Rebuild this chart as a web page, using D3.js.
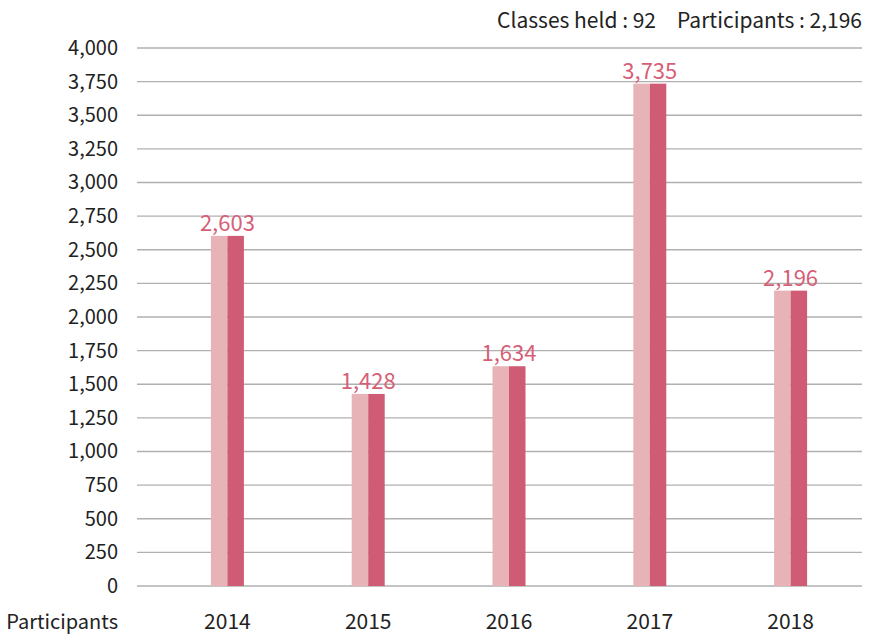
<!DOCTYPE html>
<html>
<head>
<meta charset="utf-8">
<script src="https://cdn.jsdelivr.net/npm/d3@7"></script>
<style>
  html, body { margin: 0; padding: 0; background: #fff; }
  svg { display: block; font-family: "Noto Sans CJK JP", "Noto Sans", sans-serif; }
</style>
</head>
<body>
<svg id="chart" width="879" height="637"></svg>
<script>
const years = ["2014", "2015", "2016", "2017", "2018"];
const participants = [2603, 1428, 1634, 3735, 2196];
const yTicks = [0, 250, 500, 750, 1000, 1250, 1500, 1750, 2000, 2250, 2500, 2750, 3000, 3250, 3500, 3750, 4000];
const summaryText = "Classes held : 92\u2003Participants : 2,196";
const rowLabel = "Participants";

const svg = d3.select("#chart");
const plotLeft = 137, plotRight = 862, plotTop = 48, plotBottom = 586;
const font = "'Noto Sans CJK JP', 'Noto Sans', sans-serif";

const y = d3.scaleLinear().domain([0, 4000]).range([plotBottom, plotTop]);
const x = d3.scaleBand().domain(years).range([157, 861]);
const fmt = d3.format(",");
const barHalf = 16.5;

// horizontal grid lines
svg.append("g")
  .selectAll("line")
  .data(yTicks)
  .join("line")
  .attr("x1", plotLeft).attr("x2", plotRight)
  .attr("y1", d => y(d)).attr("y2", d => y(d))
  .attr("stroke", "#b0b0b0").attr("stroke-width", 1.3);

// y axis labels
const yAxis = d3.axisLeft(y).tickValues(yTicks).tickFormat(fmt).tickSize(0).tickPadding(0);
const gy = svg.append("g").attr("transform", "translate(118,0)").call(yAxis);
gy.select(".domain").remove();
gy.selectAll("text").attr("font-size", 20).attr("fill", "#222").attr("font-family", font);

// bars: light left half, dark right half
const bars = svg.append("g").selectAll("g")
  .data(years.map((yr, i) => ({ yr, v: participants[i] })))
  .join("g");
bars.append("rect")
  .attr("x", d => x(d.yr) + x.bandwidth() / 2 - barHalf)
  .attr("y", d => y(d.v))
  .attr("width", barHalf)
  .attr("height", d => y(0) - y(d.v))
  .attr("fill", "#e8b3b7");
bars.append("rect")
  .attr("x", d => x(d.yr) + x.bandwidth() / 2)
  .attr("y", d => y(d.v))
  .attr("width", barHalf)
  .attr("height", d => y(0) - y(d.v))
  .attr("fill", "#cf5c74");

// value labels
bars.append("text")
  .attr("x", d => x(d.yr) + x.bandwidth() / 2)
  .attr("y", d => y(d.v) - 5)
  .attr("text-anchor", "middle")
  .attr("font-size", 22)
  .attr("fill", "#d65f77")
  .text(d => fmt(d.v));

// x axis labels
const xAxis = d3.axisBottom(x).tickSize(0).tickPadding(0);
const gx = svg.append("g").attr("transform", "translate(0,0)").call(xAxis);
gx.select(".domain").remove();
gx.selectAll("text").attr("font-size", 21).attr("fill", "#222").attr("font-family", font)
  .attr("y", 629).attr("dy", null);

svg.append("text")
  .attr("x", 118).attr("y", 629)
  .attr("text-anchor", "end")
  .attr("font-size", 20).attr("fill", "#222")
  .text(rowLabel);

svg.append("text")
  .attr("x", 862).attr("y", 28)
  .attr("text-anchor", "end")
  .attr("font-size", 21).attr("fill", "#222")
  .attr("xml:space", "preserve")
  .text(summaryText);
</script>
</body>
</html>
